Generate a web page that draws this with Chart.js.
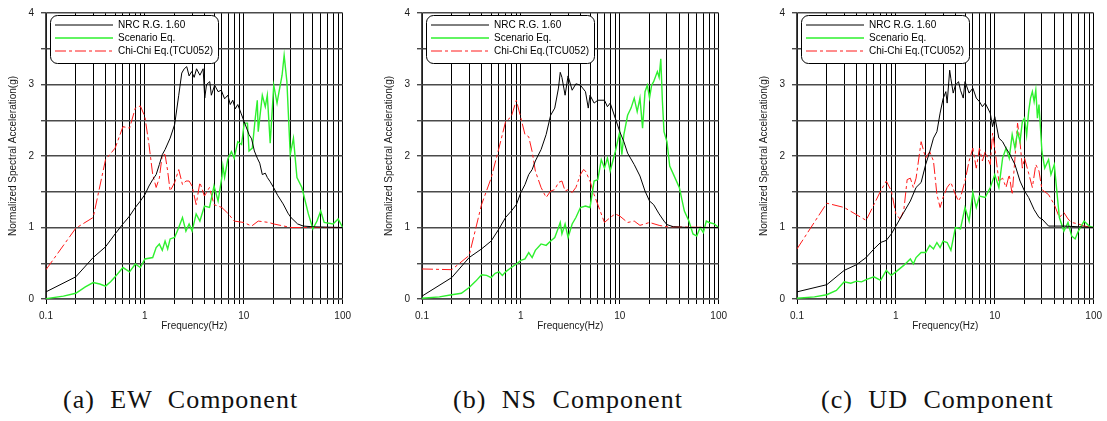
<!DOCTYPE html>
<html>
<head>
<meta charset="utf-8">
<script src="https://cdn.jsdelivr.net/npm/chart.js@4.4.1/dist/chart.umd.min.js"></script>
<style>
  html, body { margin: 0; padding: 0; background: #fff; }
  #page { position: relative; width: 1107px; height: 421px; overflow: hidden; }
  canvas { position: absolute; top: 0; }
  .cap {
    position: absolute; top: 387px; white-space: pre;
    font-family: "Liberation Serif", "DejaVu Serif", serif;
    font-size: 26px; line-height: 26px; letter-spacing: 1px; word-spacing: 8px; color: #111;
  }
</style>
</head>
<body>
<div id="page">
  <canvas id="chartEW" width="357" height="340" style="left:0px"></canvas>
  <canvas id="chartNS" width="357" height="340" style="left:376px"></canvas>
  <canvas id="chartUD" width="357" height="340" style="left:751px"></canvas>
  <div class="cap" style="left:63px">(a) EW Component</div>
  <div class="cap" style="left:453px">(b) NS Component</div>
  <div class="cap" style="left:821px">(c) UD Component</div>
</div>
<script>
// ------------------------------ Data --------------------------------------
const SERIES_LABELS = ['NRC R.G. 1.60', 'Scenario Eq.', 'Chi-Chi Eq.(TCU052)'];
const X_GRID = [0.1, 0.2, 0.3, 0.4, 0.5, 0.6, 0.7, 0.8, 0.9, 1, 2, 3, 4, 5, 6, 7, 8, 9, 10,
  20, 30, 40, 50, 60, 70, 80, 90, 100];
const X_LABELS = { 0.1: '0.1', 1: '1', 10: '10', 100: '100' };

// (a) EW
const EW_NRC_F = [0.1,0.2,0.3,0.4,0.5,0.6,0.7,0.8,0.9,1,1.1,1.2,1.3,1.4,1.5,1.6,1.8,2,2.2,2.36,2.5,2.65,2.8,2.97,3.15,3.33,3.6,3.88,4.03,4.2,4.53,4.7,5.08,5.5,5.92,6.4,6.9,7.3,7.74,8.2,8.7,9.37,10.1,11.3,12,12.8,13.7,14.5,15.4,16.5,17.3,18.5,20,22,25,28,30,35,40,50,100];
const EW_NRC_V = [0.1,0.31,0.58,0.73,0.91,1.05,1.16,1.28,1.37,1.46,1.58,1.67,1.74,1.88,2.02,2.09,2.25,2.44,2.85,3.16,3.22,3.25,3.12,3.18,3.1,3.22,3.13,3.22,2.81,3.0,3.04,2.85,2.99,2.9,2.92,2.8,2.85,2.72,2.78,2.66,2.72,2.6,2.48,2.3,2.24,2.07,1.97,1.9,1.74,1.76,1.7,1.64,1.56,1.45,1.33,1.2,1.14,1.05,1.02,1.01,1.0];
const EW_SCN_F = [0.1,0.15,0.2,0.25,0.3,0.35,0.4,0.45,0.5,0.6,0.7,0.8,0.9,1,1.2,1.3,1.4,1.5,1.6,1.7,1.8,2,2.2,2.4,2.6,2.8,3,3.3,3.6,4,4.5,5,5.5,6,6.15,6.4,6.9,7.5,8,8.7,9.5,10.1,10.9,11.3,12.2,13,13.7,14,15.4,16.5,17.3,18.5,20.1,21.7,22.6,24.4,25.6,27.3,29.5,31.8,34.5,38.7,45,50,55,60,65,80,90,100];
const EW_SCN_V = [0.005,0.04,0.08,0.17,0.23,0.21,0.18,0.24,0.31,0.44,0.38,0.49,0.44,0.56,0.58,0.72,0.77,0.68,0.81,0.7,0.84,0.86,1.0,1.14,0.95,1.05,0.95,1.19,1.09,1.3,1.28,1.58,1.37,1.7,1.86,1.7,1.96,2.06,1.97,2.2,2.16,2.46,2.46,2.07,2.11,2.5,2.78,2.34,2.85,2.69,2.85,2.18,2.99,2.74,2.88,3.13,3.41,3.04,2.02,2.25,1.7,1.56,1.19,0.98,1.09,1.23,1.07,1.05,1.12,1.0];
const EW_CHI_F = [0.1,0.2,0.3,0.4,0.5,0.6,0.7,0.8,0.9,1,1.1,1.2,1.3,1.4,1.5,1.6,1.7,1.8,2,2.2,2.4,2.6,2.8,3,3.3,3.6,4,4.5,5,6,7,8,10,12,14,18,20,30,100];
const EW_CHI_V = [0.41,0.99,1.14,1.95,2.11,2.41,2.39,2.67,2.7,2.55,2.16,1.74,1.56,1.69,2.02,2.02,1.79,1.51,1.63,1.81,1.6,1.65,1.65,1.58,1.32,1.63,1.44,1.56,1.32,1.28,1.19,1.09,1.07,1.02,1.09,1.07,1.05,1.0,1.0];

// (b) NS
const NS_NRC_F = [0.1,0.2,0.3,0.4,0.5,0.6,0.7,0.8,0.9,1,1.1,1.2,1.3,1.4,1.6,1.8,2,2.2,2.4,2.5,2.6,2.8,3,3.3,3.6,4,4.5,4.8,5,5.5,6,7,7.5,8,9,10,11,12,14,16,18,20,22,25,28,30,35,50,100];
const NS_NRC_V = [0.04,0.3,0.58,0.7,0.81,0.98,1.14,1.23,1.32,1.49,1.6,1.74,1.81,1.93,2.09,2.3,2.57,2.67,2.95,3.17,3.1,2.85,3.12,2.92,3.01,2.99,2.9,2.67,2.85,2.74,2.78,2.78,2.69,2.74,2.53,2.34,2.2,2.04,1.88,1.72,1.51,1.37,1.32,1.19,1.09,1.04,1.01,1.0,1.0];
const NS_SCN_F = [0.1,0.15,0.2,0.25,0.3,0.35,0.4,0.45,0.5,0.55,0.6,0.65,0.7,0.8,0.9,1,1.1,1.2,1.3,1.4,1.6,1.8,2,2.2,2.4,2.5,2.6,2.8,3,3.3,3.6,4,4.5,5,5.5,6,6.5,7,7.5,8,9,10,10.5,11,12,13,14,15,16,17,18,19,20,21,22,24,25,26,27,28,30,32,35,40,45,50,55,60,65,70,75,80,90,100];
const NS_SCN_V = [0.01,0.03,0.06,0.08,0.16,0.25,0.34,0.33,0.3,0.36,0.38,0.33,0.38,0.44,0.49,0.54,0.56,0.65,0.58,0.68,0.77,0.75,0.81,0.86,1.0,1.07,0.91,1.05,0.86,1.05,1.14,1.28,1.3,1.28,1.65,1.67,1.95,1.83,1.97,1.79,2.06,2.34,2.02,2.3,2.57,2.67,2.81,2.62,2.81,2.39,2.9,2.99,2.81,2.99,3.04,3.18,3.1,3.36,2.76,2.34,2.2,1.86,1.74,1.56,1.23,1.09,0.91,0.88,1.0,0.93,1.09,1.07,1.05,1.0];
const NS_CHI_F = [0.1,0.2,0.3,0.4,0.5,0.6,0.7,0.8,0.9,1,1.1,1.2,1.3,1.4,1.6,1.8,2,2.2,2.4,2.6,2.8,3,3.3,3.6,4,4.3,4.5,5,5.5,6,7,8,9,10,12,14,16,20,25,30,100];
const NS_CHI_V = [0.42,0.41,0.61,1.32,1.69,2.11,2.48,2.55,2.78,2.53,2.3,2.27,2.06,1.79,1.56,1.42,1.51,1.53,1.63,1.65,1.51,1.53,1.49,1.56,1.74,1.81,1.79,1.65,1.46,1.32,1.07,1.14,1.19,1.16,1.07,1.09,1.03,1.07,1.03,1.01,1.0];

// (c) UD
const UD_NRC_F = [0.1,0.2,0.3,0.4,0.5,0.6,0.7,0.8,0.9,1,1.1,1.2,1.4,1.6,1.8,2,2.2,2.4,2.6,2.8,3,3.2,3.3,3.5,3.6,3.8,4,4.3,4.5,4.8,5,5.5,6,6.5,7,7.5,8,9,9.5,10,11,12,13,14,16,18,20,22,25,28,30,35,50,100];
const UD_NRC_V = [0.1,0.2,0.4,0.48,0.58,0.7,0.79,0.82,0.91,1.02,1.12,1.21,1.37,1.56,1.63,1.88,2.06,2.25,2.34,2.6,2.8,2.9,2.74,3.2,3.08,2.88,2.99,3.04,2.92,2.81,3.04,2.88,2.95,2.81,2.76,2.69,2.74,2.6,2.41,2.55,2.25,2.2,2.11,2.04,1.88,1.65,1.51,1.42,1.25,1.14,1.12,1.02,1.02,1.0];
const UD_SCN_F = [0.1,0.15,0.2,0.25,0.3,0.35,0.4,0.45,0.5,0.6,0.7,0.8,0.9,1,1.2,1.4,1.5,1.6,1.8,2,2.2,2.4,2.6,2.8,3,3.3,3.6,4,4.5,5,5.5,6,6.5,7,8,9,10,11,12,13,14,15,16,17,18,19,20,21,22,23,24,25,26,27,28,30,32,35,37,40,45,50,55,60,65,70,80,90,100];
const UD_SCN_V = [0.01,0.03,0.06,0.12,0.24,0.22,0.25,0.24,0.27,0.31,0.26,0.4,0.33,0.38,0.47,0.56,0.49,0.58,0.65,0.65,0.75,0.7,0.79,0.72,0.81,0.79,0.68,1.0,0.98,1.28,1.09,1.49,1.28,1.44,1.42,1.56,1.74,1.56,1.97,2.11,1.97,2.3,2.11,2.34,2.2,2.48,2.53,2.29,2.62,2.81,2.9,2.76,2.92,2.53,2.72,2.06,1.83,1.95,1.74,1.88,1.14,0.95,1.07,0.88,0.84,0.95,1.09,1.02,1.0];
const UD_CHI_F = [0.1,0.2,0.3,0.5,0.6,0.7,0.8,0.9,1,1.1,1.2,1.3,1.4,1.5,1.6,1.8,2,2.2,2.4,2.6,2.8,3,3.3,3.6,4,4.3,4.5,5,5.5,6,6.5,7,7.5,8,9,9.5,10,11,12,13,14,15,16,17,18,19,20,22,24,26,28,30,35,40,45,50,55,60,70,80,100];
const UD_CHI_V = [0.7,1.34,1.28,1.1,1.32,1.51,1.65,1.51,1.19,1.12,1.23,1.67,1.69,1.56,1.69,2.2,1.97,2.06,1.93,1.46,1.28,1.42,1.56,1.63,1.46,1.37,1.42,1.65,1.93,2.11,1.83,2.11,1.93,2.06,1.88,2.32,2.11,1.65,1.69,1.56,1.74,1.46,1.97,2.46,2.2,1.83,1.97,1.76,1.56,1.88,1.79,1.53,1.46,1.32,1.14,1.21,1.12,1.07,1.05,1.02,1.0];

(function () {
  // ----------------------------- Utilities ----------------------------------
  function pts(f, v) {
    return f.map((x, i) => ({ x, y: v[i] }));
  }

  const COL = {
    nrc: '#000000',
    scn: '#2ef02e',
    chi: '#ff1a1a',
    gridX: '#000000',
    gridY: '#4a4a4a',
    text: '#1a1a1a',
  };

  Chart.defaults.font.family = '"Liberation Sans", Arial, sans-serif';
  Chart.defaults.font.size = 10;
  Chart.defaults.color = COL.text;

  // Legend drawn as a rounded box inside the plot, like the original figure
  const boxLegend = {
    id: 'boxLegend',
    afterDatasetsDraw(chart) {
      const { ctx, chartArea: a } = chart;
      const x = a.left + 4, y = a.top + 2, w = 168, h = 48;
      ctx.save();
      ctx.beginPath();
      ctx.roundRect(x + 0.5, y + 0.5, w, h, 7);
      ctx.fillStyle = '#fff';
      ctx.fill();
      ctx.lineWidth = 1;
      ctx.strokeStyle = '#000';
      ctx.stroke();
      ctx.font = '10px "Liberation Sans", Arial, sans-serif';
      ctx.textBaseline = 'middle';
      chart.data.datasets.forEach((ds, i) => {
        const ly = y + 10 + i * 13;
        ctx.beginPath();
        ctx.setLineDash(ds.borderDash || []);
        ctx.strokeStyle = ds.borderColor;
        ctx.lineWidth = ds.borderWidth;
        ctx.moveTo(x + 5, ly);
        ctx.lineTo(x + 63, ly);
        ctx.stroke();
        ctx.setLineDash([]);
        ctx.fillStyle = '#000';
        ctx.fillText(ds.label, x + 68, ly);
      });
      ctx.restore();
    },
  };

  // --------------------------- Chart options --------------------------------
  function buildOptions() {
    return {
      responsive: false,
      animation: false,
      layout: { padding: { top: 11, right: 10, left: 0, bottom: 0 } },
      plugins: { legend: { display: false }, tooltip: { enabled: false } },
      elements: { point: { radius: 0 }, line: { tension: 0 } },
      scales: {
        x: {
          type: 'logarithmic',
          min: 0.1,
          max: 100,
          afterBuildTicks: (s) => { s.ticks = X_GRID.map((v) => ({ value: v })); },
          afterFit: (s) => { s.height = 41; },
          grid: { color: COL.gridX, lineWidth: 1, tickLength: 5 },
          border: { color: COL.gridY, width: 1.4 },
          ticks: {
            autoSkip: false,
            maxRotation: 0,
            padding: 6,
            color: COL.text,
            callback: (v) => X_LABELS[v] || '',
          },
          title: { display: true, text: 'Frequency(Hz)', color: COL.text, padding: { top: 0, bottom: 8 } },
        },
        y: {
          type: 'linear',
          min: 0,
          max: 4,
          afterFit: (s) => { s.width = 46; },
          grid: { color: COL.gridY, lineWidth: 1.4, tickLength: 5 },
          border: { color: COL.gridY, width: 1.4 },
          ticks: {
            stepSize: 0.5,
            padding: 7,
            color: COL.text,
            callback: (v) => (Number.isInteger(v) ? v : ''),
          },
          title: {
            display: true,
            text: 'Normalized Spectral Acceleration(g)',
            color: COL.text,
            padding: { top: 7, bottom: 0 },
          },
        },
      },
    };
  }

  // --------------------------- Chart initialization -------------------------
  function makeChart(id, nrcF, nrcV, scnF, scnV, chiF, chiV) {
    const canvas = document.getElementById(id);
    return new Chart(canvas.getContext('2d'), {
      type: 'scatter',
      data: {
        datasets: [
          { label: SERIES_LABELS[0], data: pts(nrcF, nrcV), showLine: true, borderColor: COL.nrc, borderWidth: 1 },
          { label: SERIES_LABELS[1], data: pts(scnF, scnV), showLine: true, borderColor: COL.scn, borderWidth: 1.4 },
          { label: SERIES_LABELS[2], data: pts(chiF, chiV), showLine: true, borderColor: COL.chi, borderWidth: 1,
            borderDash: [11, 3, 3, 3] },
        ],
      },
      options: buildOptions(),
      plugins: [boxLegend],
    });
  }

  makeChart('chartEW', EW_NRC_F, EW_NRC_V, EW_SCN_F, EW_SCN_V, EW_CHI_F, EW_CHI_V);
  makeChart('chartNS', NS_NRC_F, NS_NRC_V, NS_SCN_F, NS_SCN_V, NS_CHI_F, NS_CHI_V);
  makeChart('chartUD', UD_NRC_F, UD_NRC_V, UD_SCN_F, UD_SCN_V, UD_CHI_F, UD_CHI_V);
})();
</script>
</body>
</html>
